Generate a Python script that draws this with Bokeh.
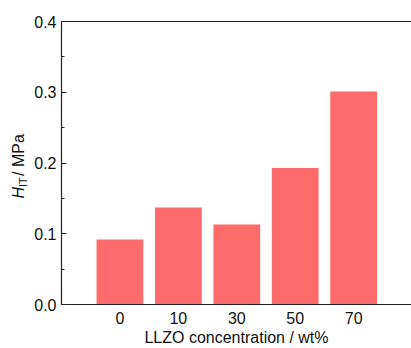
import math
from bokeh.plotting import figure
from bokeh.layouts import row
from bokeh.models import FixedTicker, LinearAxis, Label, Range1d
from bokeh.embed import file_html
from bokeh.resources import INLINE

categories = ["0", "10", "30", "50", "70"]
hardness = [0.092, 0.137, 0.113, 0.193, 0.301]
positions = [1, 2, 3, 4, 5]
y_ticks = [0.0, 0.1, 0.2, 0.3, 0.4]

FONT = "Liberation Sans"
BAR = "#FF6A6A"
LEFT_W = 30

p = figure(width=411 - LEFT_W, height=348, output_backend="svg", toolbar_location=None,
           x_range=Range1d(0, 5.99), y_range=Range1d(0, 0.4),
           min_border_left=61 - LEFT_W, min_border_top=21, min_border_bottom=44, min_border_right=0)
p.outline_line_color = None
p.grid.visible = False
p.background_fill_color = "white"
p.border_fill_color = "white"

p.vbar(x=positions, top=hardness, width=0.8, fill_color=BAR, line_color=None)

xa = p.xaxis[0]
xa.ticker = FixedTicker(ticks=positions)
xa.major_label_overrides = {pos: c for pos, c in zip(positions, categories)}
xa.major_tick_line_color = None
xa.minor_tick_line_color = None
xa.major_tick_in = 0
xa.major_tick_out = 0
xa.axis_line_color = "#222222"
xa.axis_line_width = 1.2
xa.major_label_text_font = FONT
xa.major_label_text_font_size = "16px"
xa.major_label_text_color = "#111111"
xa.major_label_standoff = 7
xa.axis_label = "LLZO concentration / wt%"
xa.axis_label_text_font = FONT
xa.axis_label_text_font_size = "16px"
xa.axis_label_text_font_style = "normal"
xa.axis_label_text_color = "#111111"
xa.axis_label_standoff = 2

ya = p.yaxis[0]
ya.ticker = FixedTicker(ticks=y_ticks, minor_ticks=[0.05, 0.15, 0.25, 0.35])
ya.major_label_overrides = {t: f"{t:.1f}" for t in y_ticks}
ya.major_tick_in = 5
ya.major_tick_out = 0
ya.minor_tick_in = 3
ya.minor_tick_out = 0
ya.axis_line_color = "#222222"
ya.axis_line_width = 1.2
ya.major_tick_line_color = "#222222"
ya.minor_tick_line_color = "#222222"
ya.major_label_text_font = FONT
ya.major_label_text_font_size = "16px"
ya.major_label_text_color = "#111111"
ya.major_label_standoff = 5

top = LinearAxis(axis_line_color="#222222", axis_line_width=1.2,
                 major_tick_line_color=None, minor_tick_line_color=None,
                 major_label_text_font_size="0px", major_label_standoff=0,
                 ticker=FixedTicker(ticks=[]))
p.add_layout(top, "above")

# narrow strip holding the rotated y-axis title: H_IT / MPa
lf = figure(width=LEFT_W, height=348, output_backend="svg", toolbar_location=None,
            x_axis_location=None, y_axis_location=None,
            x_range=Range1d(0, 1), y_range=Range1d(0, 1),
            min_border=0)
lf.outline_line_color = None
lf.grid.visible = False
lf.border_fill_color = "white"
lf.background_fill_color = "white"

common = dict(x_units="screen", y_units="screen", angle=math.pi / 2,
              text_font=FONT, text_color="#111111", text_baseline="middle", text_align="left")
lf.add_layout(Label(x=18, y=106, text="H", text_font_size="16px",
                    text_font_style="italic", **common))
lf.add_layout(Label(x=22, y=117.5, text="IT", text_font_size="11px", **common))
lf.add_layout(Label(x=18, y=128.5, text=" / MPa", text_font_size="16px", **common))

layout = row(lf, p, spacing=0)
open("out.html", "w").write(file_html(layout, INLINE))
